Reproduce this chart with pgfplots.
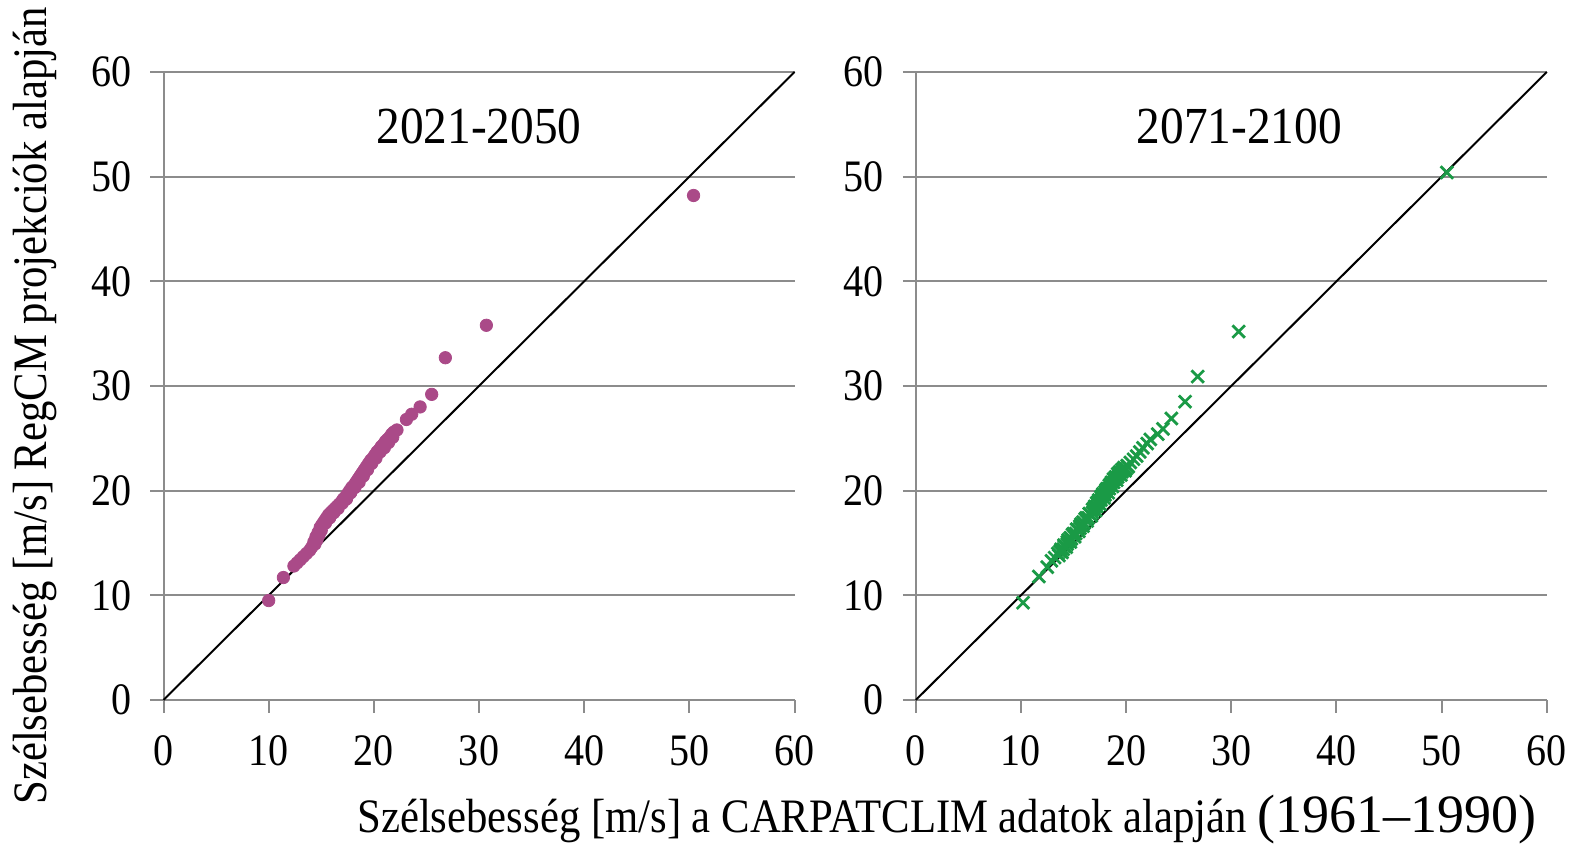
\documentclass[border=0pt]{standalone}
\usepackage{pgfplots}
\pgfplotsset{compat=1.18}
\usepackage{fontspec}
\setmainfont{Liberation Serif}
\newfontfamily\narrowserif[FakeStretch=0.89]{Liberation Serif}
\newfontfamily\titleserif[FakeStretch=0.91]{Liberation Serif}
\definecolor{mag}{HTML}{AA4A88}
\definecolor{grn}{HTML}{1A9A46}
\definecolor{gridc}{HTML}{8C8C8C}
\pgfplotsset{myax/.style={
  width=315.5pt, height=314pt, scale only axis,
  xmin=0, xmax=60, ymin=0, ymax=60,
  xtick={0,10,...,60}, ytick={0,10,...,60},
  axis x line*=bottom, axis y line*=left,
  axis line style={gridc, line width=1pt, -},
  ymajorgrids, major grid style={gridc, line width=1pt},
  tick align=outside, major tick length=6.5pt,
  tick style={gridc, line width=1pt},
  ticklabel style={font=\narrowserif\fontsize{22.5}{26}\selectfont, text=black},
  xticklabel style={yshift=-8pt},
  yticklabel style={xshift=-6pt},
  /pgf/number format/assume math mode=true,
  clip=false,
}}
\begin{document}
\begin{tikzpicture}[x=1pt,y=1pt]
\path[use as bounding box] (0,0) rectangle (786.5,422.5);
\begin{axis}[myax, at={(81.75pt,72.5pt)}, anchor=south west]
\addplot[black, line width=1pt] coordinates {(0,0) (60,60)};
\addplot[only marks, mark=*, mark size=3.1pt, mark options={fill=mag, draw=mag}] coordinates {
(10.0,9.5)(11.4,11.7)
(12.4,12.8)(12.7,13.1)(13.0,13.4)(13.3,13.7)(13.6,14.0)(13.9,14.3)(14.1,14.6)(14.3,15.1)(14.5,15.6)(14.7,16.0)(14.9,16.5)(15.1,16.8)(15.3,17.1)(15.5,17.4)(15.7,17.7)(15.9,17.9)(16.1,18.1)(16.3,18.3)(16.5,18.5)(16.7,18.7)(16.9,18.9)(17.1,19.2)(17.3,19.4)(17.5,19.7)(17.7,20.0)(17.9,20.3)(18.1,20.5)(18.3,20.8)(18.5,21.1)(18.7,21.4)(18.9,21.7)(19.1,22.0)(19.3,22.3)(19.5,22.6)(19.7,22.9)(19.9,23.1)(20.1,23.4)(20.3,23.7)(20.5,23.9)(20.7,24.2)(20.9,24.4)(21.1,24.7)(21.3,24.9)(21.5,25.1)(21.7,25.4)(21.9,25.6)(22.2,25.8)
(14.4,14.9)(14.6,15.3)(14.8,15.8)(15.0,16.2)(15.4,16.9)(15.8,17.4)(16.2,17.9)(16.6,18.3)(17.0,18.8)(17.4,19.2)(17.8,19.8)(18.2,20.3)(18.6,20.8)(19.0,21.4)(19.4,22.0)(19.8,22.6)(20.2,23.1)(20.6,23.7)(21.0,24.1)(21.4,24.6)(21.8,25.1)
(23.1,26.8)(23.6,27.3)(24.4,28.0)(25.5,29.2)(26.8,32.7)(30.7,35.8)(50.4,48.2)
};
\node[font=\titleserif\fontsize{26}{30}\selectfont] at (axis cs:30,54.8) {2021-2050};
\end{axis}
\begin{axis}[myax, at={(457.9pt,72.5pt)}, anchor=south west]
\addplot[black, line width=1pt] coordinates {(0,0) (60,60)};
\addplot[only marks, mark=x, mark size=4.4pt, mark options={draw=grn, line width=1.4pt}] coordinates {
(10.2,9.3)(11.7,11.8)(12.5,12.7)(12.9,13.3)(13.2,13.6)(13.5,14.0)(13.8,14.4)(14.1,14.8)(14.4,15.1)(14.7,15.5)(15.0,15.9)(15.3,16.3)(15.6,16.6)(15.9,17.0)(16.2,17.4)(16.5,17.8)(16.8,18.2)(17.0,18.5)(17.2,18.8)(17.4,19.1)(17.6,19.4)(17.8,19.7)(18.0,19.9)(18.2,20.2)(18.4,20.5)(18.6,20.8)(18.8,21.1)(19.0,21.3)(19.2,21.6)(19.4,21.8)(19.6,22.0)(19.8,22.2)(20.1,22.4)(20.4,22.7)(20.7,23.0)(21.0,23.3)(21.3,23.7)(21.6,24.1)(22.0,24.5)(22.3,24.9)
(13.6,13.8)(14.0,14.4)(14.4,14.9)(14.8,15.4)(15.2,15.9)(15.6,16.4)(16.0,16.9)(16.4,17.4)(16.8,17.9)(17.2,18.5)(17.6,19.1)(18.0,19.6)(18.4,20.2)(18.8,20.8)(19.2,21.3)(19.6,21.8)(20.0,22.1)
(13.7,14.2)(14.1,14.7)(14.5,15.3)(14.9,15.8)(15.3,16.3)(15.7,16.8)(16.1,17.3)(16.5,17.8)(16.9,18.3)(17.3,18.9)(17.7,19.5)(18.1,20.1)(18.5,20.6)(18.9,21.1)(19.3,21.6)(19.7,22.0)(20.2,22.3)
(13.9,14.1)(14.3,14.6)(14.7,15.1)(15.1,15.6)(15.5,16.1)(15.9,16.6)(16.3,17.1)(16.7,17.6)(17.1,18.1)(17.5,18.7)(17.9,19.3)(18.3,19.8)(18.7,20.4)(19.1,21.0)(19.5,21.5)(19.9,21.9)
(23.0,25.4)(23.5,25.9)(24.3,26.9)(25.6,28.5)(26.8,30.9)(30.7,35.2)(50.5,50.4)
};
\node[font=\titleserif\fontsize{26}{30}\selectfont] at (axis cs:30.75,54.8) {2071-2100};
\end{axis}
\node[rotate=90, anchor=base, inner sep=0pt, font=\narrowserif\fontsize{24}{28}\selectfont] at (23,219.5) {Szélsebesség [m/s] RegCM projekciók alapján};
\node[anchor=base west, inner sep=0pt, font=\narrowserif\fontsize{24}{28}\selectfont] at (178.5,6.2) {Szélsebesség [m/s] a CARPATCLIM adatok alapján {\rmfamily\fontsize{27}{30}\selectfont(1961–1990)}};
\end{tikzpicture}
\end{document}
